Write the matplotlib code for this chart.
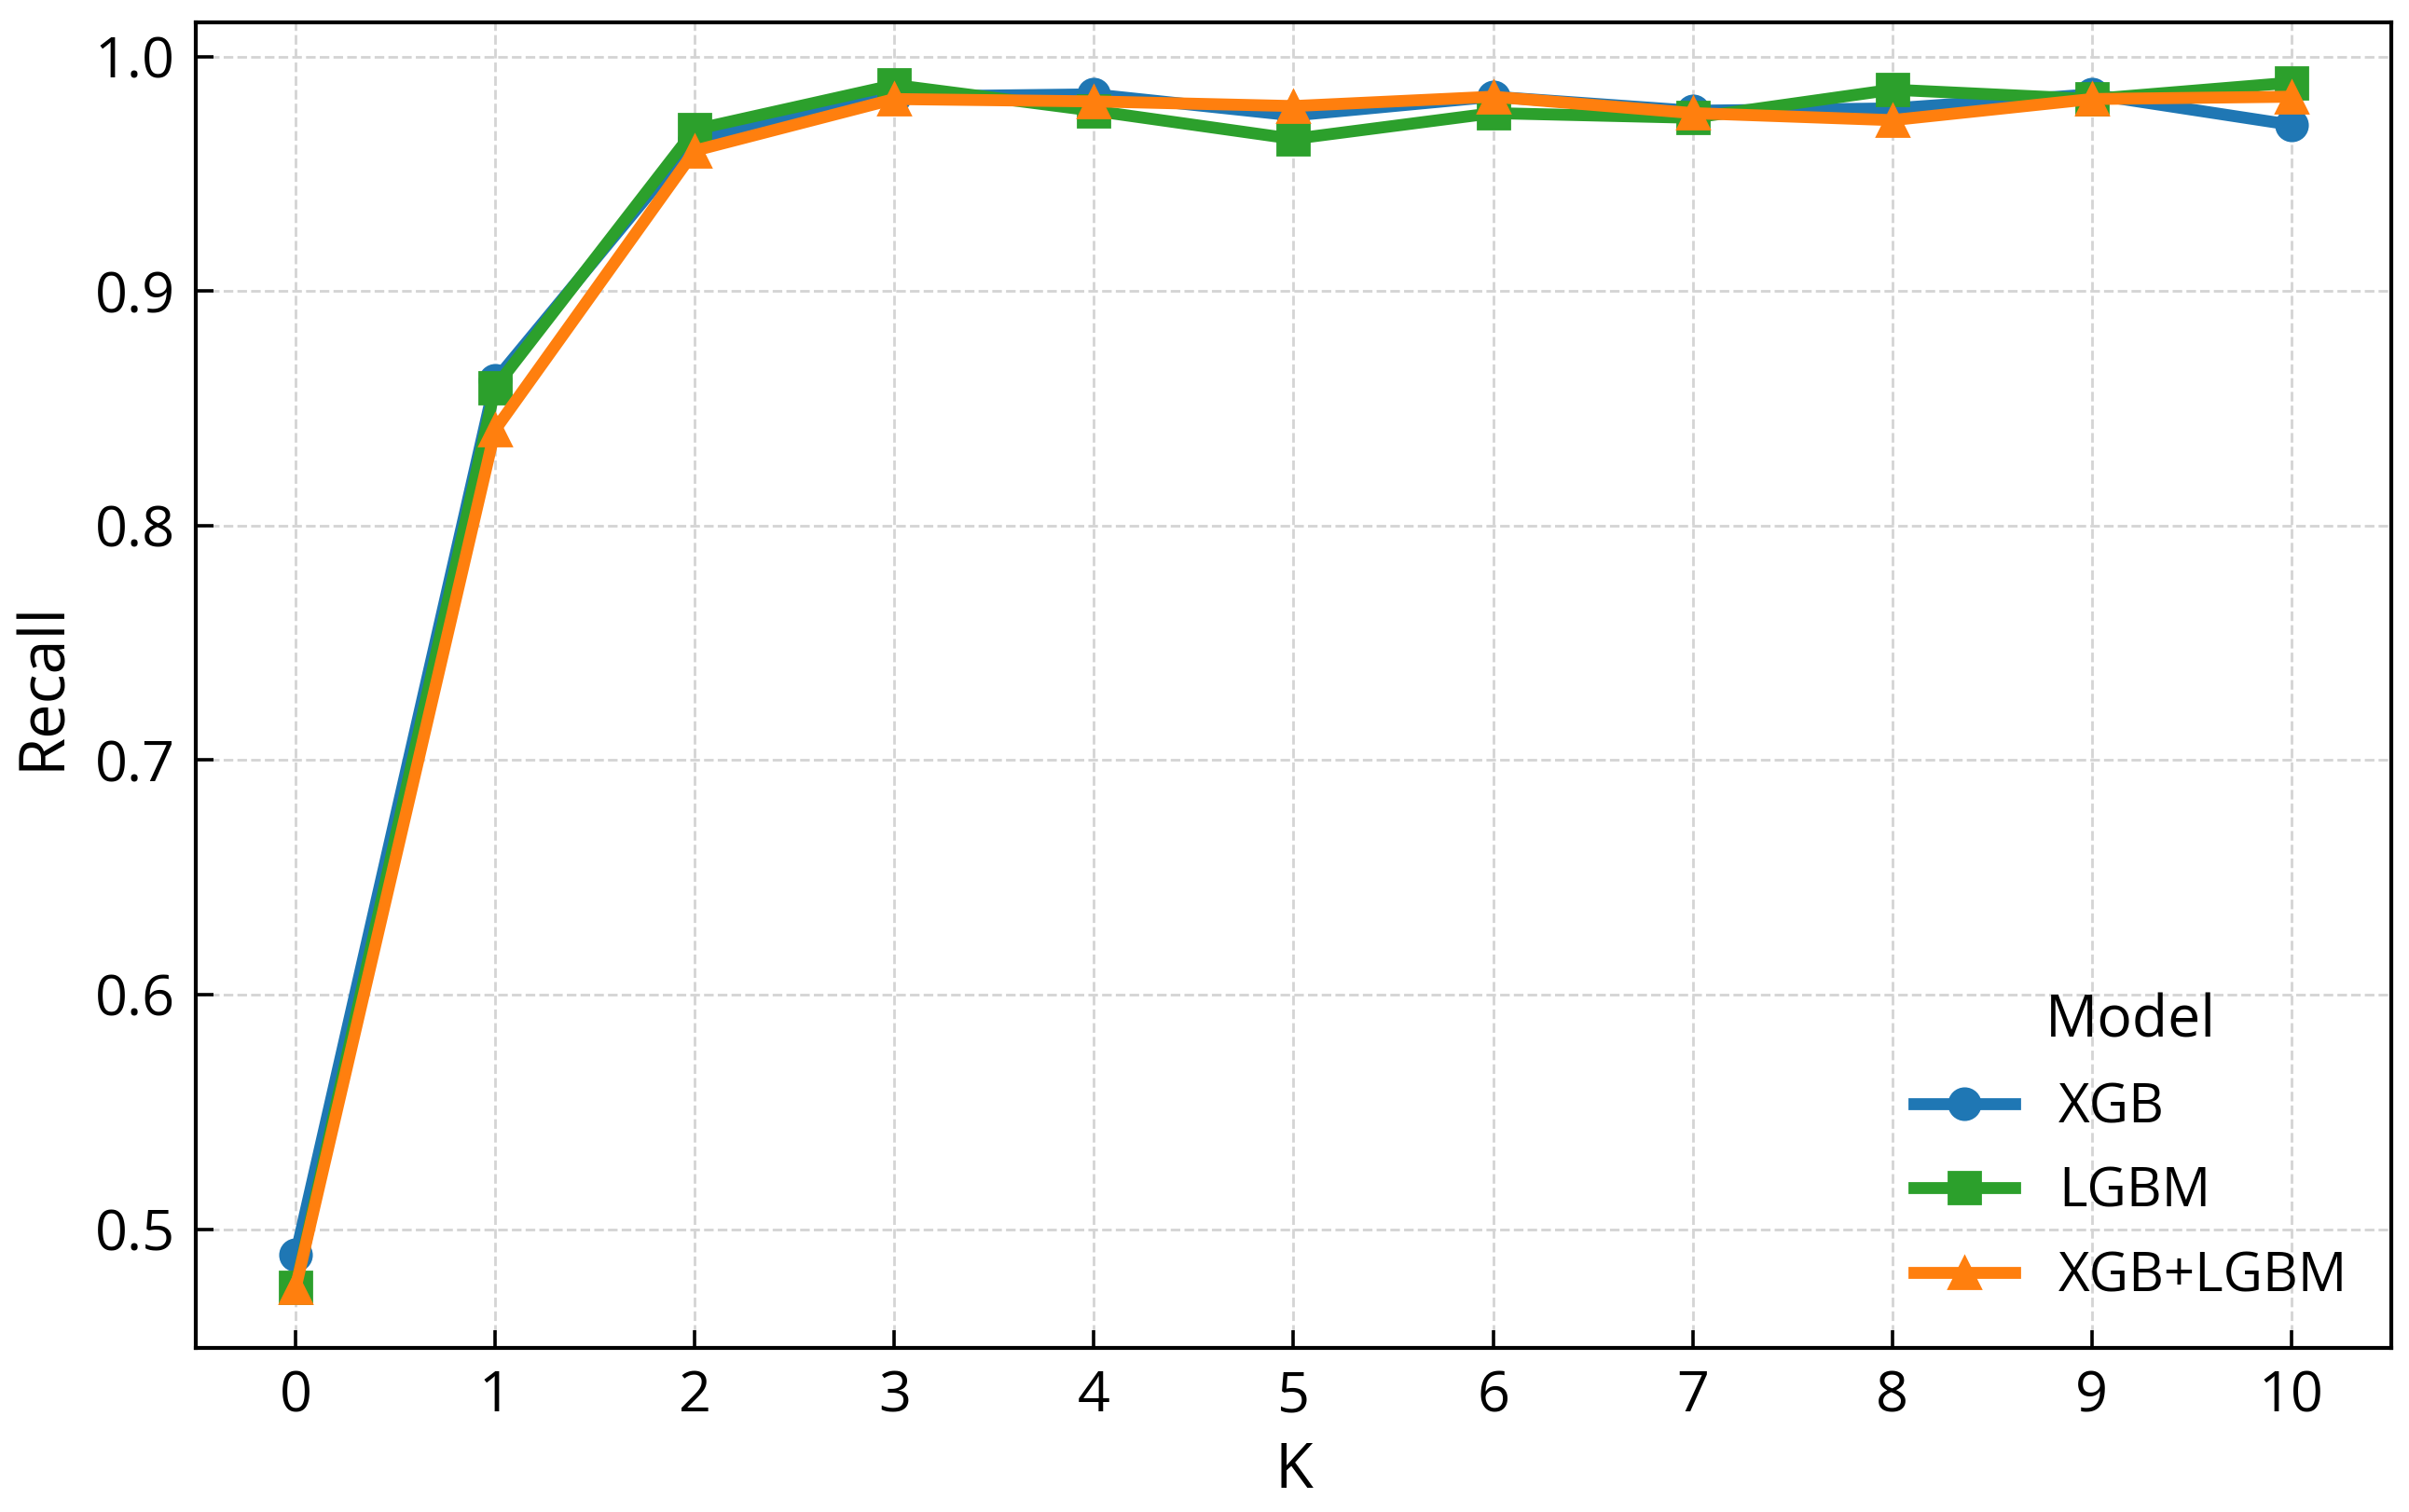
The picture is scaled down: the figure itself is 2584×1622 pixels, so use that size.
import matplotlib
matplotlib.use("Agg")
import matplotlib.pyplot as plt
import numpy as np

plt.rcParams['font.family'] = ['Open Sans', 'DejaVu Sans']

k_values = [0, 1, 2, 3, 4, 5, 6, 7, 8, 9, 10]
xgb = [0.489, 0.862, 0.965, 0.983, 0.984, 0.975, 0.983, 0.977, 0.978, 0.984, 0.971]
lgbm = [0.475, 0.859, 0.969, 0.988, 0.977, 0.965, 0.976, 0.974, 0.986, 0.982, 0.989]
xgb_lgbm = [0.475, 0.841, 0.960, 0.982, 0.981, 0.979, 0.983, 0.976, 0.973, 0.982, 0.983]

series = [('XGB', xgb, '#1f77b4', 'o'),
          ('LGBM', lgbm, '#2ca02c', 's'),
          ('XGB+LGBM', xgb_lgbm, '#ff7f0e', '^')]

fig = plt.figure(figsize=(12.92, 8.11), dpi=200)
ax = fig.add_axes([0.0813, 0.1085, 0.9113, 0.8767])

for name, vals, col, mk in series:
    ax.plot(k_values, vals, color=col, marker=mk, linewidth=4.6, markersize=12, label=name)

ax.set_xticks(k_values)
ax.set_yticks([0.5, 0.6, 0.7, 0.8, 0.9, 1.0])
ax.set_yticklabels(['0.5', '0.6', '0.7', '0.8', '0.9', '1.0'])
ax.grid(True, linestyle='--', color='#d4d4d4', linewidth=1.0)
ax.set_axisbelow(True)

ax.tick_params(direction='in', length=7, width=1.3, labelsize=22, pad=8)
for s in ax.spines.values():
    s.set_linewidth(1.5)

ax.set_xlabel('K', fontsize=24, labelpad=6)
ax.set_ylabel('Recall', fontsize=24, labelpad=8)

leg = ax.legend(title='Model', loc='lower right', frameon=False, fontsize=21,
                title_fontsize=22.5, borderaxespad=0.4, labelspacing=0.55,
                handlelength=1.85)

fig.savefig('out.png', dpi=200)
